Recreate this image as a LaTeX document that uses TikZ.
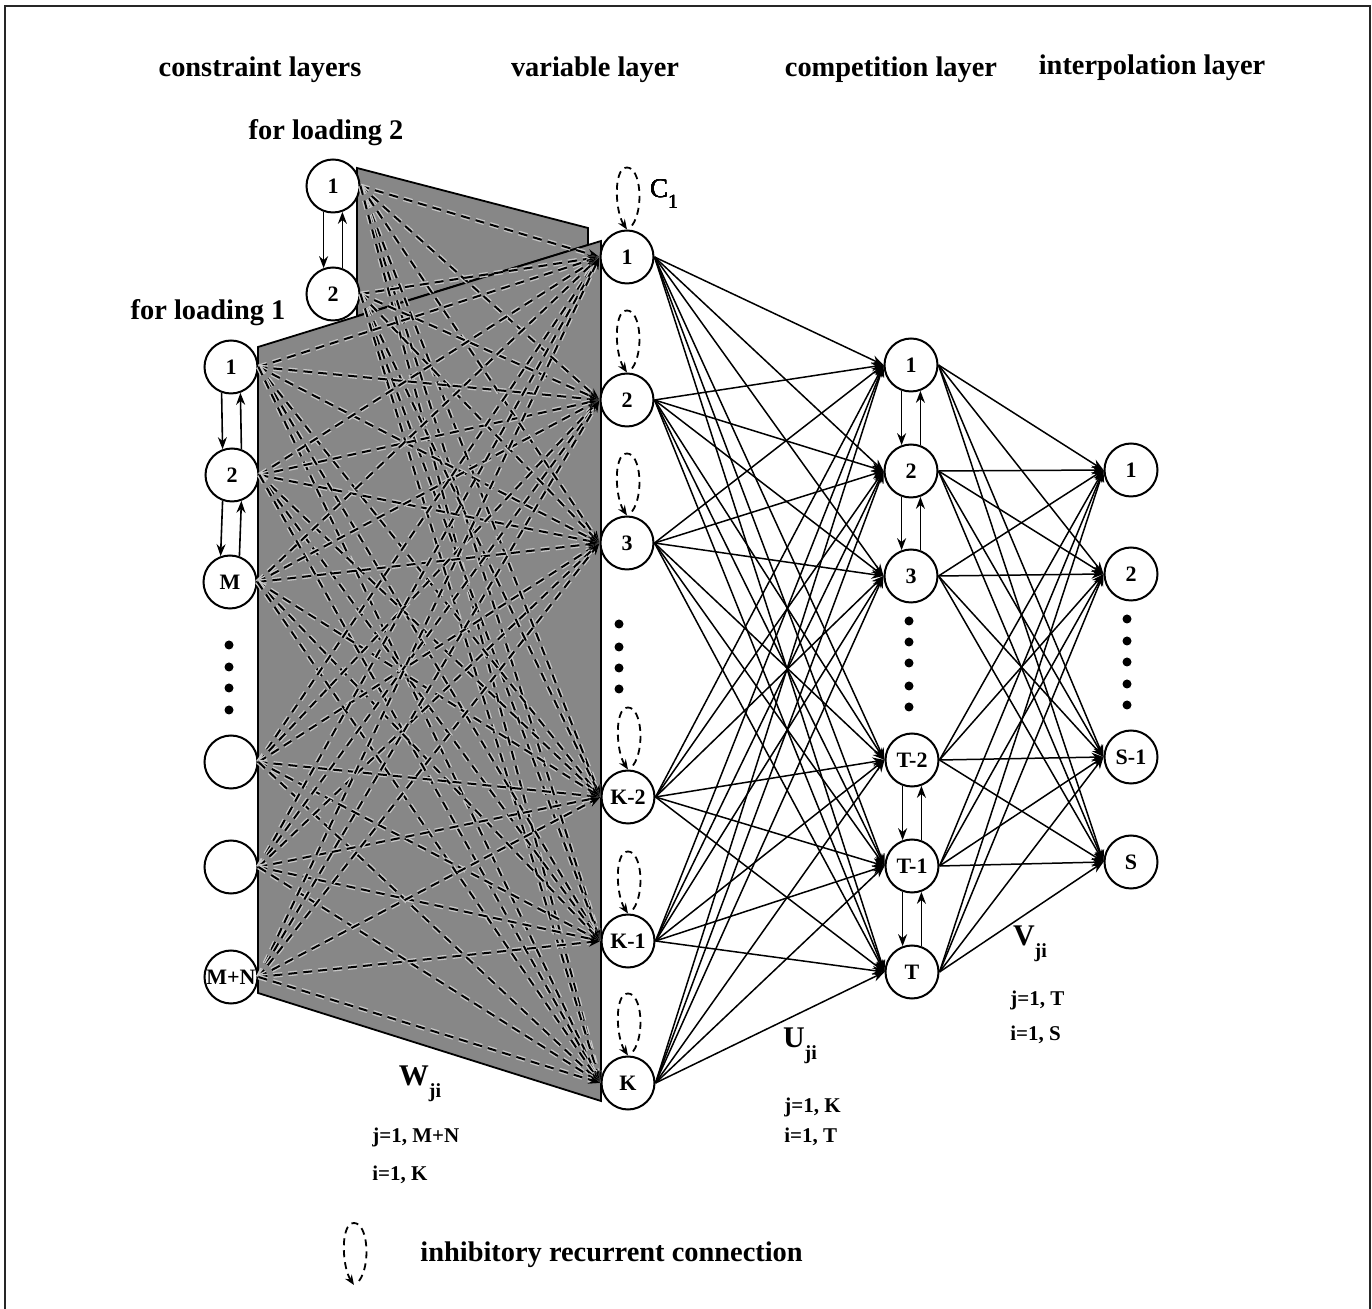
\documentclass[tikz,border=0pt]{standalone}
\usepackage{fontspec}
\setmainfont{Liberation Serif}
\usetikzlibrary{arrows.meta,calc}

% subscript set in text fonts
\newcommand\lowsub[1]{\raisebox{-0.38em}{\fontsize{10}{10}\selectfont #1}}
% dashed self-inhibition loop ending on a point (arrow into the point)
\newcommand\recloop[1]{%
  \draw[loopline] ($(#1)+(5,-4)$) .. controls +(12,-16) and +(14,0) .. ($(#1)+(0,-62)$)
    .. controls +(-14,0) and +(-12,-18) .. (#1);}
% pair of opposite vertical links between two stacked units
\newcommand\updown[2]{%
  \draw[vlink] (#1.250) -- (#2.110);
  \draw[vlink] (#2.70) -- (#1.290);}

\begin{document}
\begin{tikzpicture}[x=0.5pt,y=-0.5pt,
  unit/.style={circle,draw,line width=1pt,minimum size=26.5pt,inner sep=0pt,
    fill=white,font=\fontsize{11}{12}\selectfont\bfseries},
  head/.style={font=\fontsize{14.2}{16}\selectfont\bfseries,inner sep=0pt},
  wlab/.style={font=\fontsize{15}{16}\selectfont\bfseries,inner sep=0pt},
  ilab/.style={font=\fontsize{10.5}{12}\selectfont\bfseries,inner sep=0pt,anchor=west},
  tip/.style={-{Stealth[length=6pt,width=4.5pt]}},
  solidlink/.style={tip,line width=0.75pt},
  dashlink/.style={-{Stealth[length=6pt,width=4.5pt]},line width=1pt,dash pattern=on 4.5pt off 3pt,
    preaction={draw=black!22,line width=2.4pt,dash pattern=on 4.5pt off 3pt}},
  loopline/.style={-{Stealth[length=5pt,width=4pt]},line width=0.9pt,dash pattern=on 3.5pt off 2.5pt},
  vlink/.style={tip,line width=0.8pt},
  shade/.style={fill=black!47,draw=black,line width=0.9pt},
  dot/.style={circle,fill=black,inner sep=0pt,minimum size=4.5pt}
]
\useasboundingbox (0,0) rectangle (1372,1309);

% outer frame
\draw[line width=1.3pt,black!85] (5,1309) -- (5,6) -- (1370,6) -- (1370,1309);

% layer headings
\node[head] (h1) at (260,70) {constraint layers};
\node[head] (h2) at (595,70) {variable layer};
\node[head] (h3) at (891,70) {competition layer};
\node[head] (h4) at (1152,68) {interpolation layer};
\node[head] (g2) at (326,133) {for loading 2};
\node[head] (g1) at (208,313) {for loading 1};

% shaded weight blocks
\path[shade] (357,168) -- (588,228) -- (588,245) -- (357,316) -- cycle;
\path[shade] (258,347) -- (601,241) -- (601,1101) -- (258,993) -- cycle;

% constraint units, loading 2
\node[unit] (a1) at (333,186) {1};
\node[unit] (a2) at (333,294) {2};
% constraint units, loading 1
\node[unit] (b1) at (231,367) {1};
\node[unit] (b2) at (232,475) {2};
\node[unit] (b3) at (230,582) {M};
\node[unit] (b4) at (231,762) {};
\node[unit] (b5) at (231,867) {};
\node[unit] (b6) at (231,977) {M+N};
\foreach \yy [count=\k] in {645,667,688,710} \node[dot] (bd\k) at (229,\yy) {};

% variable units
\node[unit] (v1) at (627,257) {1};
\node[unit] (v2) at (627,400) {2};
\node[unit] (v3) at (627,543) {3};
\node[unit] (v4) at (628,797) {K-2};
\node[unit] (v5) at (628,941) {K-1};
\node[unit] (v6) at (628,1083) {K};
\foreach \yy [count=\k] in {624,647,668,689} \node[dot] (vd\k) at (619,\yy) {};

% competition units
\node[unit] (c1) at (911,365) {1};
\node[unit] (c2) at (911,471) {2};
\node[unit] (c3) at (911,576) {3};
\node[unit] (c4) at (912,760) {T-2};
\node[unit] (c5) at (912,866) {T-1};
\node[unit] (c6) at (912,972) {T};
\foreach \yy [count=\k] in {621,642,663,686,707} \node[dot] (cd\k) at (909,\yy) {};

% interpolation units
\node[unit] (s1) at (1131,470) {1};
\node[unit] (s2) at (1131,574) {2};
\node[unit] (s3) at (1131,757) {S-1};
\node[unit] (s4) at (1131,862) {S};
\foreach \yy [count=\k] in {619,641,662,684,705} \node[dot] (sd\k) at (1127,\yy) {};

% constraint -> variable weights (dashed)
\foreach \i in {1,2} \foreach \j in {1,...,6} \draw[dashlink] (a\i.east) -- (v\j.west);
\foreach \i in {1,...,6} \foreach \j in {1,...,6} \draw[dashlink] (b\i.east) -- (v\j.west);

% variable -> competition weights
\foreach \i in {1,...,6} \foreach \j in {1,...,6} \draw[solidlink] (v\i.east) -- (c\j.west);
% competition -> interpolation weights
\foreach \i in {1,...,6} \foreach \j in {1,...,4} \draw[solidlink] (c\i.east) -- (s\j.west);

% links inside the constraint and competition layers
\updown{a1}{a2}
\updown{b1}{b2}
\updown{b2}{b3}
\updown{c1}{c2}
\updown{c2}{c3}
\updown{c4}{c5}
\updown{c5}{c6}

% recurrent inhibition on variable units
\foreach \j in {1,...,6} \recloop{v\j.north}
\node[font=\fontsize{13.5}{14}\selectfont,inner sep=0pt] (c1lab) at (664,194) {C\lowsub{1}};

% weight labels
\node[wlab] (wl) at (420,1084) {W\lowsub{\bfseries ji}};
\node[ilab] (wj) at (372,1137) {j=1, M+N};
\node[ilab] (wi) at (372,1175) {i=1, K};
\node[wlab] (ul) at (800,1046) {U\lowsub{\bfseries ji}};
\node[ilab] (uj) at (784,1107) {j=1, K};
\node[ilab] (ui) at (784,1137) {i=1, T};
\node[wlab] (vl) at (1030,944) {V\lowsub{\bfseries ji}};
\node[ilab] (vj) at (1010,1000) {j=1, T};
\node[ilab] (vi) at (1010,1035) {i=1, S};

% legend
\coordinate (lg) at (354,1285);
\recloop{lg}
\node[head,anchor=west] (lgt) at (420,1255) {inhibitory recurrent connection};
\end{tikzpicture}
\end{document}
